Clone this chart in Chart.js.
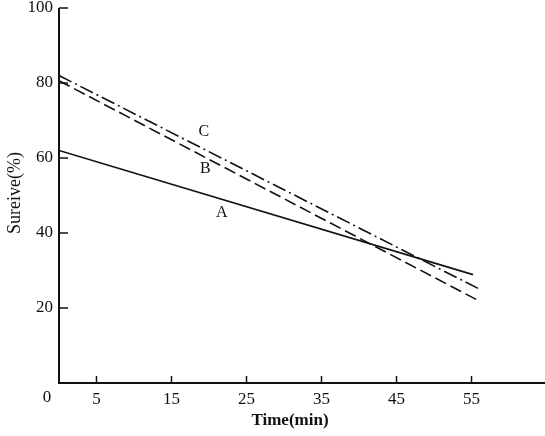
<!DOCTYPE html>
<html>
<head>
<meta charset="utf-8">
<script src="https://cdn.jsdelivr.net/npm/chart.js@4"></script>
<style>
  html, body { margin: 0; padding: 0; background: #fff; }
  #wrap { width: 545px; height: 436px; }
</style>
</head>
<body>
<div id="wrap"><canvas id="chart"></canvas></div>
<script>
// values
const xTicks = [0, 5, 15, 25, 35, 45, 55];
const yTicks = [20, 40, 60, 80, 100];
const lineA = [{ x: 0, y: 62 }, { x: 55.2, y: 28.9 }];
const lineB = [{ x: 0, y: 80.6 }, { x: 55.9, y: 22 }];
const lineC = [{ x: 0, y: 82 }, { x: 55.9, y: 25.2 }];
const curveLabels = [
  { text: 'A', x: 21.7, y: 45.4 },
  { text: 'B', x: 19.5, y: 57 },
  { text: 'C', x: 19.3, y: 67.1 }
];

const serif = '"Liberation Serif", "DejaVu Serif", serif';

// axis lines, inward ticks, curve letters and axis titles
const decor = {
  id: 'decor',
  afterDraw(chart) {
    const { ctx, chartArea: a, scales: { x, y } } = chart;
    ctx.save();
    ctx.strokeStyle = '#111';
    ctx.lineWidth = 2;
    ctx.beginPath();
    ctx.moveTo(a.left, y.getPixelForValue(100));
    ctx.lineTo(a.left, a.bottom);
    ctx.lineTo(a.right, a.bottom);
    ctx.stroke();

    ctx.lineWidth = 1.5;
    xTicks.forEach(v => {
      if (v === 0) return;
      const px = x.getPixelForValue(v);
      ctx.beginPath();
      ctx.moveTo(px, a.bottom);
      ctx.lineTo(px, a.bottom - 7);
      ctx.stroke();
    });
    yTicks.forEach(v => {
      const py = y.getPixelForValue(v);
      ctx.beginPath();
      ctx.moveTo(a.left, py);
      ctx.lineTo(a.left + 9, py);
      ctx.stroke();
    });

    ctx.fillStyle = '#111';
    ctx.textAlign = 'center';
    ctx.textBaseline = 'middle';
    ctx.font = '17px ' + serif;
    // the origin label sits left of the axis in the figure
    ctx.fillText('0', x.getPixelForValue(0) - 12, a.bottom + 15);

    ctx.font = '16px ' + serif;
    curveLabels.forEach(l => {
      ctx.fillText(l.text, x.getPixelForValue(l.x), y.getPixelForValue(l.y));
    });

    ctx.font = 'bold 17px ' + serif;
    ctx.fillText('Time(min)', 290, 421);

    ctx.translate(15, 193);
    ctx.rotate(-Math.PI / 2);
    ctx.font = '18px ' + serif;
    ctx.fillText('Sureive(%)', 0, 0);
    ctx.restore();
  }
};

const solid = { borderColor: '#111', borderWidth: 1.6, pointRadius: 0, fill: false, tension: 0 };

new Chart(document.getElementById('chart'), {
  type: 'line',
  data: {
    datasets: [
      Object.assign({ label: 'A', data: lineA }, solid),
      Object.assign({ label: 'B', data: lineB, borderDash: [12, 5] }, solid),
      Object.assign({ label: 'C', data: lineC, borderDash: [14, 4, 2, 4] }, solid)
    ]
  },
  options: {
    responsive: true,
    maintainAspectRatio: false,
    animation: false,
    layout: { padding: { top: 8, right: 0, left: 0, bottom: 0 } },
    plugins: { legend: { display: false }, tooltip: { enabled: false } },
    scales: {
      x: {
        type: 'linear',
        min: 0,
        max: 64.8,
        afterBuildTicks: s => { s.ticks = xTicks.map(v => ({ value: v })); },
        afterFit: s => { s.height = 53; s.paddingLeft = 0; s.paddingRight = 0; },
        grid: { display: false, drawTicks: false },
        border: { display: false },
        ticks: {
          color: '#111',
          font: { family: serif, size: 17 },
          padding: 6,
          maxRotation: 0,
          callback: v => (v === 0 ? '' : v)
        }
      },
      y: {
        type: 'linear',
        min: 0,
        max: 100,
        afterBuildTicks: s => { s.ticks = [0].concat(yTicks).map(v => ({ value: v })); },
        afterFit: s => { s.width = 59; s.paddingTop = 0; s.paddingBottom = 0; },
        grid: { display: false, drawTicks: false },
        border: { display: false },
        ticks: {
          color: '#111',
          font: { family: serif, size: 17 },
          padding: 6,
          callback: v => (v === 0 ? '' : v)
        }
      }
    }
  },
  plugins: [decor]
});
</script>
</body>
</html>
